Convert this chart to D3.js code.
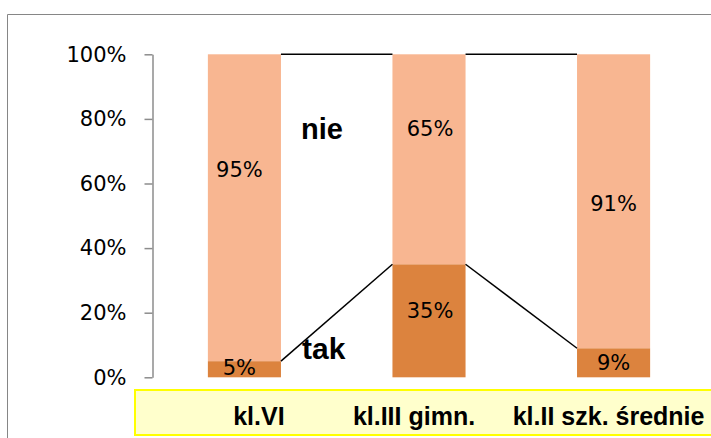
<!DOCTYPE html>
<html>
<head>
<meta charset="utf-8">
<script src="https://cdn.jsdelivr.net/npm/d3@7"></script>
<style>
  body { margin: 0; background: #fff; }
  svg { display: block; }
</style>
</head>
<body>
<script>
// dane
var categories = ["kl.VI", "kl.III gimn.", "kl.II szk. średnie"];
var tak = [0.05, 0.35, 0.09];
var nie = [0.95, 0.65, 0.91];
var yTicks = [0, 0.2, 0.4, 0.6, 0.8, 1];

var width = 711, height = 438;

var svg = d3.select("body")
    .append("svg")
    .attr("width", width)
    .attr("height", height);

// ramka wykresu
svg.append("path")
    .attr("d", "M7.5,438 V14.5 H711")
    .attr("fill", "none")
    .attr("stroke", "#868686")
    .attr("stroke-width", 1);

var x = d3.scaleBand()
    .domain(categories)
    .range([152.5, 705.5])
    .paddingInner(0.604)
    .paddingOuter(0.3);

var y = d3.scaleLinear()
    .domain([0, 1])
    .range([377.3, 54.3]);

// Y-as
var yAxis = svg.append("g")
    .attr("transform", "translate(152.5,0)")
    .call(d3.axisLeft(y)
        .tickValues(yTicks)
        .tickFormat(d3.format(".0%"))
        .tickSize(8)
        .tickSizeOuter(0)
        .tickPadding(18));

yAxis.select(".domain").attr("stroke", "#8c8c8c").attr("stroke-width", 1.5);
yAxis.selectAll(".tick line").attr("stroke", "#8c8c8c").attr("stroke-width", 1.5);
yAxis.selectAll(".tick text")
    .style("font-family", "DejaVu Sans")
    .style("font-size", "21px")
    .attr("fill", "#000");

var rows = categories.map(function(c, i) {
    return { cat: c, tak: tak[i], nie: nie[i] };
});

// słupki "tak"
svg.selectAll(".bar-tak")
    .data(rows)
    .enter()
    .append("rect")
    .attr("x", function(d) { return x(d.cat); })
    .attr("width", x.bandwidth())
    .attr("y", function(d) { return y(d.tak); })
    .attr("height", function(d) { return y(0) - y(d.tak); })
    .attr("fill", "#DC833E");

// słupki "nie"
svg.selectAll(".bar-nie")
    .data(rows)
    .enter()
    .append("rect")
    .attr("x", function(d) { return x(d.cat); })
    .attr("width", x.bandwidth())
    .attr("y", function(d) { return y(d.tak + d.nie); })
    .attr("height", function(d) { return y(d.tak) - y(d.tak + d.nie); })
    .attr("fill", "#F8B691");

// linie łączące
for (var i = 0; i < rows.length - 1; i++) {
    var x1 = x(rows[i].cat) + x.bandwidth(),
        x2 = x(rows[i + 1].cat);
    svg.append("line")
        .attr("x1", x1).attr("x2", x2)
        .attr("y1", y(rows[i].tak)).attr("y2", y(rows[i + 1].tak))
        .attr("stroke", "#000").attr("stroke-width", 1.5);
    svg.append("line")
        .attr("x1", x1).attr("x2", x2)
        .attr("y1", y(rows[i].tak + rows[i].nie)).attr("y2", y(rows[i + 1].tak + rows[i + 1].nie))
        .attr("stroke", "#000").attr("stroke-width", 1.5);
}

// etykiety wartości (położenie przesunięte ręcznie jak w oryginale)
var nieLabelAt = [0.645, 0.769, 0.538];
var takLabelAt = [0.029, 0.208, 0.047];
var labelDx = [-5, 1, 0];

rows.forEach(function(d, i) {
    var cx = x(d.cat) + x.bandwidth() / 2 + labelDx[i];
    svg.append("text")
        .attr("x", cx)
        .attr("y", y(nieLabelAt[i]))
        .attr("dy", "0.36em")
        .attr("text-anchor", "middle")
        .style("font-family", "DejaVu Sans")
        .style("font-size", "21px")
        .text(d3.format(".0%")(d.nie));
    svg.append("text")
        .attr("x", cx)
        .attr("y", y(takLabelAt[i]))
        .attr("dy", "0.36em")
        .attr("text-anchor", "middle")
        .style("font-family", "DejaVu Sans")
        .style("font-size", "21px")
        .text(d3.format(".0%")(d.tak));
});

// napisy serii
svg.append("text")
    .attr("x", 301).attr("y", 139)
    .style("font-family", "Liberation Sans")
    .style("font-weight", "bold")
    .style("font-size", "29px")
    .text("nie");

svg.append("text")
    .attr("x", 302).attr("y", 359)
    .style("font-family", "Liberation Sans")
    .style("font-weight", "bold")
    .style("font-size", "30px")
    .text("tak");

// pole z kategoriami
svg.append("rect")
    .attr("x", 135).attr("y", 390)
    .attr("width", 600).attr("height", 45)
    .attr("fill", "#FFFFCC")
    .attr("stroke", "#FFFF00")
    .attr("stroke-width", 2);

var catDx = [14.5, -15, -5];
svg.selectAll(".cat")
    .data(categories)
    .enter()
    .append("text")
    .attr("x", function(d, i) { return x(d) + x.bandwidth() / 2 + catDx[i]; })
    .attr("y", 425)
    .attr("text-anchor", "middle")
    .style("font-family", "Liberation Sans")
    .style("font-weight", "bold")
    .style("font-size", "25px")
    .text(function(d) { return d; });
</script>
</body>
</html>
